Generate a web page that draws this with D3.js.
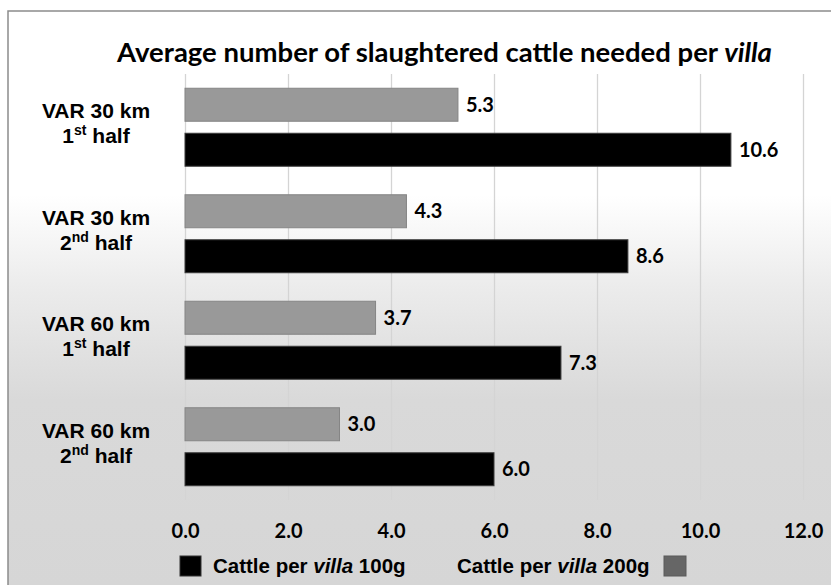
<!DOCTYPE html>
<html>
<head>
<meta charset="utf-8">
<script src="https://cdn.jsdelivr.net/npm/d3@7/dist/d3.min.js"></script>
<style>
  html, body { margin: 0; padding: 0; background: #fff; overflow: hidden; }
  svg { display: block; }
</style>
</head>
<body>
<svg id="chart" width="831" height="585"></svg>
<script>
// Chart data
const categories = ["VAR 30 km|1|st", "VAR 30 km|2|nd", "VAR 60 km|1|st", "VAR 60 km|2|nd"];
const catLine1 = ["VAR 30 km", "VAR 30 km", "VAR 60 km", "VAR 60 km"];
const catOrdinal = ["1", "2", "1", "2"];
const catSuffix = ["st", "nd", "st", "nd"];
const cattle200g = [5.3, 4.3, 3.7, 3.0];
const cattle100g = [10.6, 8.6, 7.3, 6.0];
const xTicks = [0, 2, 4, 6, 8, 10, 12];
const seriesKeys = ["200g", "100g"];

const svg = d3.select("#chart");
const W = 831, H = 585;
const plot = { left: 185, right: 803, top: 74, bottom: 500 };

// Background panel with vertical gradient; it runs past the right and bottom edges
const defs = svg.append("defs");
const grad = defs.append("linearGradient")
  .attr("id", "bg").attr("gradientUnits", "userSpaceOnUse")
  .attr("x1", 0).attr("y1", 11).attr("x2", 0).attr("y2", 585);
[[195, "#ffffff"], [285, "#ececec"], [400, "#d9d9d9"], [585, "#d6d6d6"]].forEach(([y, c]) => {
  grad.append("stop").attr("offset", ((y - 11) / (585 - 11))).attr("stop-color", c);
});

svg.append("rect")
  .attr("x", 0).attr("y", 0).attr("width", W).attr("height", H).attr("fill", "#fff");
svg.append("rect")
  .attr("x", 8).attr("y", 11).attr("width", W).attr("height", H)
  .attr("fill", "url(#bg)");
// Frame edges that are in view: top and left
svg.append("path")
  .attr("d", `M8,${H} L8,11 L${W},11`)
  .attr("fill", "none").attr("stroke", "#8c8c8c").attr("stroke-width", 1.5);

// Scales
const x = d3.scaleLinear().domain([0, 12]).range([plot.left, plot.right]);
const y = d3.scaleBand().domain(categories).range([plot.top, plot.bottom]);
const yInner = d3.scaleBand().domain(seriesKeys)
  .range([0, y.bandwidth()]).paddingInner(0.2667).paddingOuter(0.3167);

// Vertical gridlines
const grid = svg.append("g")
  .attr("transform", `translate(0,${plot.bottom})`)
  .call(d3.axisBottom(x).tickValues(xTicks).tickSize(-(plot.bottom - plot.top)).tickFormat(""));
grid.select(".domain").remove();
grid.selectAll(".tick line").attr("stroke", "#d4d4d4").attr("stroke-width", 1.3);

// Tick labels
const numFont = "Lato, 'Open Sans', sans-serif";
const axis = svg.append("g")
  .attr("transform", `translate(0,${plot.bottom})`)
  .call(d3.axisBottom(x).tickValues(xTicks).tickSize(0).tickPadding(0).tickFormat(d3.format(".1f")));
axis.select(".domain").remove();
axis.selectAll(".tick text")
  .attr("y", 0).attr("dy", 0)
  .attr("transform", "translate(0,38)")
  .attr("font-family", numFont).attr("font-weight", "bold")
  .attr("font-size", 20).attr("fill", "#000");

// Bars
const rows = categories.map((c, i) => ({ cat: c, i, vals: [
  { key: "200g", v: cattle200g[i] },
  { key: "100g", v: cattle100g[i] }
]}));
const fills = { "200g": "#999999", "100g": "#000000" };
const strokes = { "200g": "#858585", "100g": "#3c3c3c" };

const groups = svg.append("g").selectAll("g").data(rows).join("g")
  .attr("transform", d => `translate(0,${y(d.cat)})`);

groups.selectAll("rect").data(d => d.vals).join("rect")
  .attr("x", x(0))
  .attr("y", d => yInner(d.key))
  .attr("width", d => x(d.v) - x(0))
  .attr("height", yInner.bandwidth())
  .attr("fill", d => fills[d.key])
  .attr("stroke", d => strokes[d.key]).attr("stroke-width", 1);

groups.selectAll("text.val").data(d => d.vals).join("text")
  .attr("class", "val")
  .attr("x", d => x(d.v) + 8)
  .attr("y", d => yInner(d.key) + yInner.bandwidth() / 2)
  .attr("dy", "0.36em")
  .attr("font-family", numFont).attr("font-weight", "bold")
  .attr("font-size", 20).attr("fill", "#000")
  .text(d => d3.format(".1f")(d.v));

// Category labels: two centred lines, the second with a superscript ordinal
const catFont = "'Liberation Sans', Arial, sans-serif";
const cx = 96;
const catG = svg.append("g").selectAll("text").data(categories).join("text")
  .attr("font-family", catFont).attr("font-weight", "bold")
  .attr("font-size", 21).attr("fill", "#000");
catG.each(function (c, i) {
  const t = d3.select(this);
  const cy = y(c) + y.bandwidth() / 2;
  t.append("tspan").attr("x", cx).attr("y", cy - 9).attr("text-anchor", "middle").text(catLine1[i]);
  const first = t.append("tspan").attr("x", cx).attr("y", cy + 16).text(catOrdinal[i]);
  t.append("tspan").attr("font-size", 14).attr("dy", -8).text(catSuffix[i]);
  t.append("tspan").attr("dy", 8).text(" half");
  const spans = t.selectAll("tspan").nodes().slice(1);
  const w = spans.reduce((s, n) => s + n.getComputedTextLength(), 0);
  first.attr("x", cx - w / 2);
});

// Title
const title = svg.append("text")
  .attr("x", (117 + 772) / 2).attr("y", 62)
  .attr("text-anchor", "middle")
  .attr("font-family", numFont).attr("font-weight", "bold")
  .attr("font-size", 24).attr("fill", "#000");
title.append("tspan").text("Average number of slaughtered cattle needed per ");
title.append("tspan").attr("font-style", "italic").text("villa");
const tw = title.node().getComputedTextLength();
title.attr("font-size", 24 * 655 / tw);

// Legend
const legFont = "'Liberation Sans', Arial, sans-serif";
const legend = svg.append("g");
legend.append("rect").attr("x", 180).attr("y", 556).attr("width", 21).attr("height", 20)
  .attr("fill", "#000").attr("stroke", "#333");
function legendText(x0, label) {
  const t = legend.append("text").attr("x", x0).attr("y", 573)
    .attr("font-family", legFont).attr("font-weight", "bold").attr("font-size", 20.5).attr("fill", "#000");
  t.append("tspan").text("Cattle per ");
  t.append("tspan").attr("font-style", "italic").text("villa");
  t.append("tspan").text(" " + label);
}
legendText(213, "100g");
legendText(457, "200g");
legend.append("rect").attr("x", 664).attr("y", 556).attr("width", 22).attr("height", 20)
  .attr("fill", "#666666").attr("stroke", "#5a5a5a");
</script>
</body>
</html>
